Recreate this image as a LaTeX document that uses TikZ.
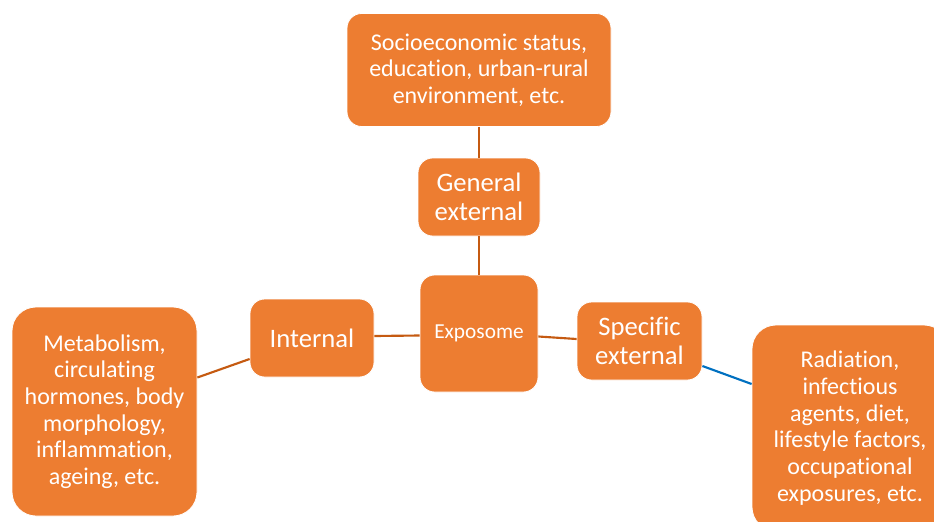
\documentclass[tikz,border=0pt]{standalone}
\usepackage{fontspec}
\setmainfont{Carlito}[Ligatures=NoCommon]
\usepackage{tikz}
\usetikzlibrary{positioning,calc}
\definecolor{xfill}{HTML}{ED7D31}
\definecolor{xline}{HTML}{C55A11}
\definecolor{xblue}{HTML}{0070C0}
\tikzset{
  box/.style={fill=xfill, draw=white, line width=0.6pt, rounded corners=11pt,
              align=center, text=white, inner sep=0pt,
              font=\fontsize{18}{20}\selectfont},
  midbox/.style={box, font=\fontsize{20}{22}\selectfont},
  bigbox/.style={box, rounded corners=18pt},
  link/.style={draw=xline, line width=1.6pt},
  bluelink/.style={draw=xblue, line width=1.6pt},
}

\begin{document}
\begin{tikzpicture}[x=0.75pt, y=-0.75pt]
  \clip (0,0) rectangle (934,521);
  \useasboundingbox (0,0) rectangle (934,521);
  % centre and first ring
  \node[box, minimum width=88.5pt, minimum height=87.75pt,
        font=\fontsize{16}{18}\selectfont] (expo) at (479,333.5) {Exposome};
  \node[midbox, minimum width=91.5pt, minimum height=58.5pt] (gen) at (479,197) {General\\external};
  \node[midbox, minimum width=93pt, minimum height=58.5pt] (int) at (312,338) {Internal};
  \node[midbox, minimum width=93.75pt, minimum height=58.5pt] (spec) at (639.5,341) {Specific\\external};
  % outer boxes
  \node[box, minimum width=198pt, minimum height=84.75pt] (socio) at (479,70)
    {Socioeconomic status,\\education, urban-rural\\environment, etc.};
  \node[bigbox, minimum width=138.75pt, minimum height=156.75pt] (metab) at (104.5,411.5)
    {Metabolism,\\circulating\\hormones, body\\morphology,\\inflammation,\\ageing, etc.};
  \node[bigbox, minimum width=147pt, minimum height=154.5pt] (rad) at (850,428)
    {Radiation,\\infectious\\agents, diet,\\lifestyle factors,\\occupational\\exposures, etc.};

  % connectors
  \draw[link] (socio.south) -- (gen.north);
  \draw[link] (gen.south) -- (expo.north);
  \draw[link] ($(int.east)+(0,-2)$) -- ($(expo.west)+(0,2)$);
  \draw[link] ($(expo.east)+(0,3)$) -- ($(spec.west)+(0,-2)$);
  \draw[link] ($(int.west)+(0,21)$) -- ($(metab.east)+(0,-34)$);
  \draw[bluelink] ($(spec.east)+(0,25)$) -- ($(rad.west)+(0,-44)$);
\end{tikzpicture}
\end{document}
